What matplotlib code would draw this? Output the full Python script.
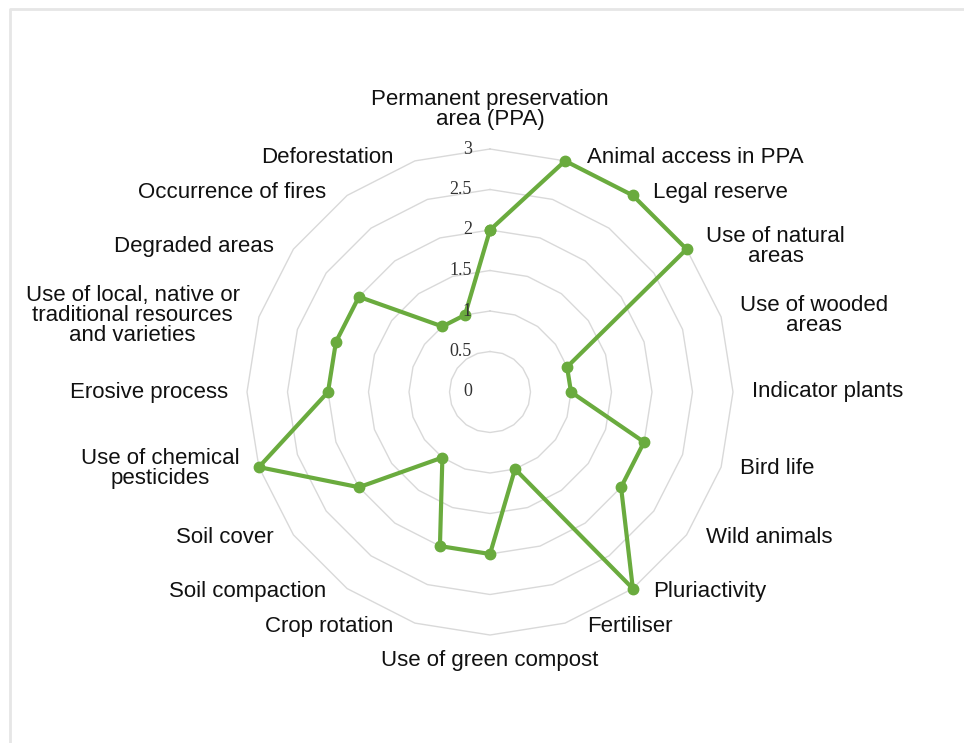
import numpy as np
import matplotlib
matplotlib.use('Agg')
import matplotlib.pyplot as plt
from matplotlib.lines import Line2D

# ── Data ─────────────────────────────────────────────────────
categories = [
    'Permanent preservation\narea (PPA)',
    'Animal access in PPA',
    'Legal reserve',
    'Use of natural\nareas',
    'Use of wooded\nareas',
    'Indicator plants',
    'Bird life',
    'Wild animals',
    'Pluriactivity',
    'Fertiliser',
    'Use of green compost',
    'Crop rotation',
    'Soil compaction',
    'Soil cover',
    'Use of chemical\npesticides',
    'Erosive process',
    'Use of local, native or\ntraditional resources\nand varieties',
    'Degraded areas',
    'Occurrence of fires',
    'Deforestation',
]
scores = [2, 3, 3, 3, 1, 1, 2, 2, 3, 1, 2, 2, 1, 2, 3, 2, 2, 2, 1, 1]
ring_values = [0.5, 1, 1.5, 2, 2.5, 3]
tick_values = [0, 0.5, 1, 1.5, 2, 2.5, 3]
tick_labels = ['0', '0.5', '1', '1.5', '2', '2.5', '3']

GREEN = '#6aab3e'
GRID = '#d9d9d9'

# ── Figure / axes ───────────────────────────────────────────
W, H = 964, 743
fig = plt.figure(figsize=(W / 100, H / 100), dpi=100)
cx, cy, rad = 490, 392, 243   # chart centre and outer radius in pixels
ax = fig.add_axes([(cx - rad) / W, (H - cy - rad) / H, 2 * rad / W, 2 * rad / H],
                  projection='polar')
ax.set_theta_zero_location('N')
ax.set_theta_direction(-1)
ax.set_ylim(0, 3)
ax.grid(False)
ax.set_xticks([])
ax.set_yticks([])
ax.spines['polar'].set_visible(False)
ax.patch.set_alpha(0)

n = len(categories)
angles = np.linspace(0, 2 * np.pi, n, endpoint=False)
closed = np.append(angles, angles[0])

# polygon grid rings
for r in ring_values:
    ax.plot(closed, [r] * (n + 1), color=GRID, lw=1, zorder=1, clip_on=False)

# data line
vals = scores + scores[:1]
ax.plot(closed, vals, color=GREEN, lw=3, marker='o', ms=7.5,
        zorder=3, clip_on=False)

# radial tick labels, left of the top spoke
for v, t in zip(tick_values, tick_labels):
    ax.annotate(t, xy=(0, v), xytext=(-18, 0), textcoords='offset pixels',
                ha='right', va='center', fontsize=13, color='#333333',
                family='Liberation Serif', annotation_clip=False, zorder=4)

# category labels
LABEL_R = 2.95      # anchor radius (data units)
GAP_X = 23          # horizontal push away from the ring (px)
LIFT = 8            # extra vertical push (px), scaled by cos
for a, lab in zip(angles, categories):
    s, c = np.sin(a), np.cos(a)
    if abs(s) < 1e-6:
        off = (0, 23 if c > 0 else -19)
        ha, va = 'center', ('bottom' if c > 0 else 'top')
    else:
        off = (GAP_X if s > 0 else -GAP_X, LIFT * c)
        ha, va = ('left' if s > 0 else 'right'), 'center'
    ax.annotate(lab, xy=(a, LABEL_R), xytext=off, textcoords='offset pixels',
                ha=ha, va=va, multialignment='center', linespacing=0.92,
                fontsize=16, color='#111111', family='Liberation Sans',
                annotation_clip=False)

# light frame
fig.add_artist(Line2D([9.5 / W, 9.5 / W, 1.0], [0, 1 - 8.5 / H, 1 - 8.5 / H],
                      transform=fig.transFigure, color='#e6e6e6', lw=2))

plt.savefig('out.png', dpi=100)
